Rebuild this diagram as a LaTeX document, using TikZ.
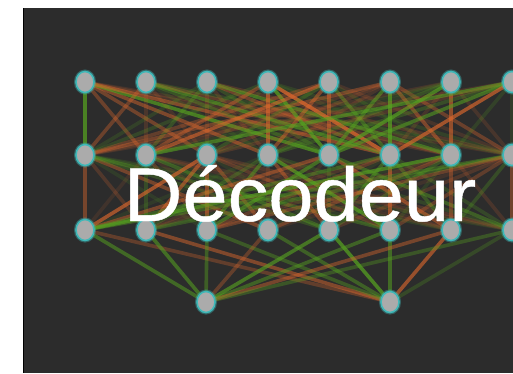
\documentclass[tikz,border=0pt]{standalone}
\usepackage{fontspec}
\setmainfont{Liberation Sans}
\newfontfamily\titlefont[FakeBold=0.6]{Liberation Sans}
\usetikzlibrary{shapes.geometric}
\pgfdeclarelayer{back}
\pgfdeclarelayer{bg}
\pgfsetlayers{back,bg,main}
\definecolor{panel}{HTML}{2C2C2C}
\definecolor{orng}{HTML}{D8662C}
\definecolor{grn}{HTML}{56A020}
\definecolor{nodegrey}{HTML}{ABABAB}
\definecolor{halo}{HTML}{3FB8B8}
\tikzset{
  neuron/.style={ellipse, minimum width=18pt, minimum height=21pt, inner sep=0pt,
    fill=nodegrey, draw=halo, line width=1.6pt,
    preaction={draw=halo, line width=4pt, opacity=0.4}},
  syn/.style={line width=3.6pt}
}
\begin{document}
\begin{tikzpicture}[x=1pt,y=-1pt]
\useasboundingbox (0,0) rectangle (513,373);
\begin{pgfonlayer}{back}
\fill[white] (0,0) rectangle (513,373);
\fill[panel] (23,8) rectangle (513,373);
\draw[black, line width=1pt] (23.5,8) -- (23.5,373);
\end{pgfonlayer}
% layers of neurons
\foreach \i in {1,...,8} {
  \pgfmathsetmacro\xx{85+61*(\i-1)}
  \node[neuron] (a\i) at (\xx,82) {};
  \node[neuron] (b\i) at (\xx,155) {};
  \node[neuron] (c\i) at (\xx,230) {};
}
\node[neuron] (d1) at (206,302) {};
\node[neuron] (d2) at (390,302) {};
\pgfmathsetseed{11}
\begin{pgfonlayer}{bg}
\foreach \i in {1,...,8} {
  \foreach \j in {1,...,8} {
    \pgfmathsetmacro\rr{rnd}
    \pgfmathsetmacro\oo{0.15+0.65*rnd^2}
    \ifdim\rr pt<0.55pt \def\ecol{orng}\else\def\ecol{grn}\fi
    \draw[syn, \ecol, opacity=\oo] (a\i.center) -- (b\j.center);
    \pgfmathsetmacro\rr{rnd}
    \pgfmathsetmacro\oo{0.12+0.65*rnd^2}
    \ifdim\rr pt<0.5pt \def\ecol{orng}\else\def\ecol{grn}\fi
    \draw[syn, \ecol, opacity=\oo] (b\i.center) -- (c\j.center);
  }
  \foreach \k in {1,2} {
    \pgfmathsetmacro\rr{rnd}
    \pgfmathsetmacro\oo{0.25+0.5*rnd}
    \ifdim\rr pt<0.6pt \def\ecol{orng}\else\def\ecol{grn}\fi
    \draw[syn, \ecol, opacity=\oo] (c\i.center) -- (d\k.center);
  }
}
\end{pgfonlayer}
\node[text=white, font=\titlefont\fontsize{76}{80}\selectfont, inner sep=0pt, anchor=base, xscale=1.07] (title) at (300,221) {Décodeur};
\end{tikzpicture}
\end{document}
